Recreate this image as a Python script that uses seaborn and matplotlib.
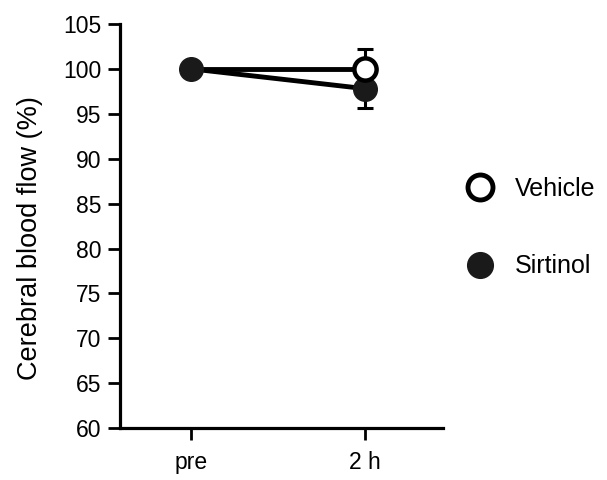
import matplotlib
matplotlib.use('Agg')
import matplotlib.pyplot as plt
import seaborn as sns
import pandas as pd
from matplotlib.lines import Line2D

# -------------------------------
# DATA
# -------------------------------
time_labels = ["pre", "2 h"]
vehicle = [100.0, 100.0]
vehicle_err = [0.0, 2.2]
sirtinol = [100.0, 97.8]
sirtinol_err = [0.0, 2.1]

sns.set_style("ticks")
plt.rcParams['font.family'] = ['Liberation Sans', 'DejaVu Sans']
plt.rcParams['text.color'] = 'black'
plt.rcParams['axes.labelcolor'] = 'black'

fig = plt.figure(figsize=(6.07, 4.8), dpi=100)
ax = fig.add_axes([0.198, 0.108, 0.532, 0.842])

x = list(range(len(time_labels)))
df = pd.DataFrame({"x": x * 2,
                   "value": vehicle + sirtinol,
                   "group": ["Vehicle"] * len(x) + ["Sirtinol"] * len(x)})

# lines
sns.lineplot(data=df, x="x", y="value", hue="group", palette=["black", "black"],
             linewidth=3.5, legend=False, ax=ax, zorder=2)

# error bars
ax.errorbar(x, sirtinol, yerr=sirtinol_err, fmt='none', ecolor='black',
            elinewidth=2.2, capsize=6, capthick=2.2, zorder=1)
ax.errorbar(x, vehicle, yerr=vehicle_err, fmt='none', ecolor='black',
            elinewidth=2.2, capsize=6, capthick=2.2, zorder=1)

# markers: vehicle at 2 h sits over sirtinol, sirtinol covers vehicle at pre
ax.plot(x[1:], vehicle[1:], 'o', ms=16, mfc='white', mec='black', mew=3.2, zorder=4)
ax.plot(x, sirtinol, 'o', ms=17, mfc='#1a1a1a', mec='#1a1a1a', zorder=3)

ax.set_xlim(-0.41, 1.45)
ax.set_ylim(60, 105)
ax.set_yticks(range(60, 106, 5))
ax.set_xticks(x)
ax.set_xticklabels(time_labels)
ax.set_xlabel("")
ax.set_ylabel("Cerebral blood flow (%)", fontsize=19.5)
ax.yaxis.set_label_coords(-0.238, 0.47)
ax.tick_params(axis='both', labelsize=16.5, width=2, length=8.5, pad=5, colors='black')
ax.tick_params(axis='x', pad=8)

for side in ['top', 'right']:
    ax.spines[side].set_visible(False)
for side in ['left', 'bottom']:
    ax.spines[side].set_linewidth(2.3)
    ax.spines[side].set_color('black')

handles = [
    Line2D([], [], marker='o', linestyle='none', ms=18, mfc='white', mec='black', mew=3.5),
    Line2D([], [], marker='o', linestyle='none', ms=18.5, mfc='#1a1a1a', mec='#1a1a1a'),
]
fig.legend(handles, ["Vehicle", "Sirtinol"], loc='center left',
           bbox_to_anchor=(0.731, 0.526), frameon=False, fontsize=18,
           labelspacing=2.15, handletextpad=0.84, handlelength=1.1)

plt.savefig("out.png", dpi=100)
plt.close()
